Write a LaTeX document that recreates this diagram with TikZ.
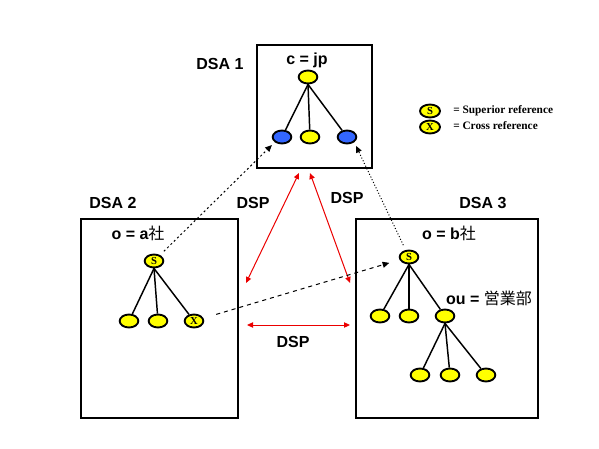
\documentclass[tikz,border=0pt]{standalone}
\usepackage{fontspec}
\setmainfont{Liberation Sans}
\newfontfamily\keyfont{Liberation Serif}
\newfontfamily\jpfont{Noto Sans CJK JP}
\usepackage{tikz}
\usetikzlibrary{shapes.geometric, positioning, arrows.meta}
\definecolor{DSYellow}{RGB}{255,255,0}
\definecolor{DSBlue}{RGB}{51,102,255}
\definecolor{DSRed}{RGB}{235,0,0}

\begin{document}
\begin{tikzpicture}[x=0.75pt, y=-0.75pt,
          dsabox/.style={draw, line width=0.8pt},
          entry/.style={ellipse, draw, line width=1.4pt, fill=DSYellow,
                        minimum width=14pt, minimum height=9.75pt,
                        inner sep=0pt, font=\keyfont\bfseries\fontsize{8}{8}\selectfont},
          blueentry/.style={entry, fill=DSBlue},
          branch/.style={line width=1.1pt, shorten <=-1pt},
          lbl/.style={anchor=base, font=\bfseries\fontsize{12}{14}\selectfont},
          keytext/.style={anchor=base west, inner sep=0pt,
                          font=\keyfont\bfseries\fontsize{8.5}{10}\selectfont},
          dsp/.style={{Triangle[length=4.5pt, width=4pt]}-{Triangle[length=4.5pt, width=4pt]},
                      draw=DSRed, line width=0.75pt},
          ref/.style={-{Triangle[length=5pt, width=4.5pt]}, line width=0.75pt}
        ]
        \useasboundingbox (0,0) rectangle (599,449);

        % DSA boxes
        \draw[dsabox] (257,45)  rectangle (372,168);
        \draw[dsabox] (81,219)  rectangle (238,418);
        \draw[dsabox] (356,219) rectangle (538,418);

        \node[lbl] (t1) at (220,70)  {DSA 1};
        \node[lbl] (t2) at (113,208) {DSA 2};
        \node[lbl] (t3) at (483,208) {DSA 3};

        % DSA 1
        \node[lbl] (cjp) at (307,65) {c = jp};
        \node[entry]     (c)  at (308,77)  {};
        \node[blueentry] (c1) at (282,137) {};
        \node[entry]     (c2) at (310,137) {};
        \node[blueentry] (c3) at (347,137) {};
        \draw[branch] (c.south) -- (c1);
        \draw[branch] (c.south) -- (c2);
        \draw[branch] (c.south) -- (c3);

        % DSA 2
        \node[lbl] (oa) at (138,239) {o = a{\jpfont\mdseries 社}};
        \node[entry] (a)  at (154,261) {S};
        \node[entry] (a1) at (129,321) {};
        \node[entry] (a2) at (158,321) {};
        \node[entry] (a3) at (194,321) {X};
        \draw[branch] (a.south) -- (a1);
        \draw[branch] (a.south) -- (a2);
        \draw[branch] (a.south) -- (a3);

        % DSA 3
        \node[lbl] (ob) at (449,239) {o = b{\jpfont\mdseries 社}};
        \node[lbl] (ou) at (489,304) {ou = {\jpfont\mdseries 営業部}};
        \node[entry] (b)   at (409,257) {S};
        \node[entry] (b1)  at (380,316) {};
        \node[entry] (b2)  at (409,316) {};
        \node[entry] (b3)  at (445,316) {};
        \node[entry] (b31) at (420,375) {};
        \node[entry] (b32) at (450,375) {};
        \node[entry] (b33) at (486,375) {};
        \draw[branch] (b.south) -- (b1);
        \draw[branch] (b.south) -- (b2);
        \draw[branch] (b.south) -- (b3);
        \draw[branch] (b3.south) -- (b31);
        \draw[branch] (b3.south) -- (b32);
        \draw[branch] (b3.south) -- (b33);

        % Legend
        \node[entry, minimum width=15pt] (keyS) at (430,111) {S};
        \node[entry, minimum width=15pt] (keyX) at (430,127) {X};
        \node[keytext] (keyStext) at (453,114) {= Superior reference};
        \node[keytext] (keyXtext) at (453,130) {= Cross reference};

        % DSP links
        \coordinate (d1a) at (299,173);
        \coordinate (d1b) at (246,283);
        \coordinate (d2a) at (310,173);
        \coordinate (d2b) at (350,283);
        \coordinate (d3a) at (247,325);
        \coordinate (d3b) at (350,325);
        \draw[dsp] (d1a) -- (d1b);
        \draw[dsp] (d2a) -- (d2b);
        \draw[dsp] (d3a) -- (d3b);
        \node[lbl] (dsp1) at (253,208) {DSP};
        \node[lbl] (dsp2) at (347,203) {DSP};
        \node[lbl] (dsp3) at (293,347) {DSP};

        % references
        \draw[ref, dash pattern=on 1.5pt off 2pt, shorten <=4pt, shorten >=3pt]
             (a) -- (c1.south west);
        \draw[ref, dash pattern=on 0.75pt off 1.5pt, shorten <=4pt, shorten >=3pt]
             (b) -- (c3.south east);
        \draw[ref, dash pattern=on 3pt off 3pt, shorten <=10pt, shorten >=8pt]
             (a3) -- (b);
      \end{tikzpicture}
\end{document}
